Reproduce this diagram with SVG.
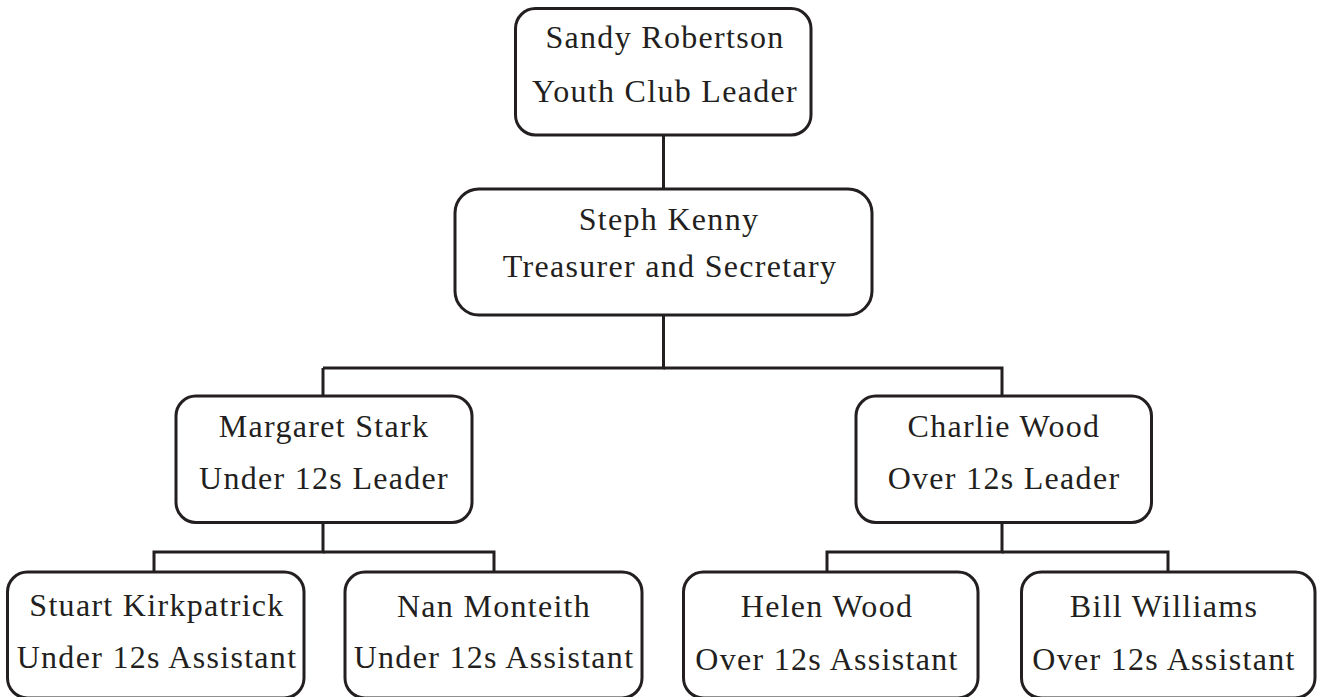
<svg xmlns="http://www.w3.org/2000/svg" width="1317" height="697" viewBox="0 0 1317 697" font-family="Liberation Serif, DejaVu Serif, serif">
<style>
.box{fill:#fff;stroke:#231f20;stroke-width:3}
.con{fill:none;stroke:#231f20;stroke-width:3}
.t{font-size:32px;letter-spacing:1.3px;fill:#231f20;text-anchor:middle}
</style>
<rect width="1317" height="697" fill="#fff"/>
<g id="connectors">
<line class="con" x1="663.5" y1="135" x2="663.5" y2="189"/>
<polyline class="con" points="663.5,315 663.5,368 323,368"/>
<polyline class="con" points="663.5,368 1002,368 1002,396"/>
<line class="con" x1="323" y1="368" x2="323" y2="396"/>
<polyline class="con" points="323,522 323,552 154,552 154,572"/>
<polyline class="con" points="323,552 494,552 494,572"/>
<polyline class="con" points="1002,522 1002,552 827,552 827,572"/>
<polyline class="con" points="1002,552 1168,552 1168,572"/>
</g>
<g id="sandy">
<rect class="box" x="515.5" y="8.5" width="295.5" height="126.5" rx="20"/>
<text class="t" font-family="Liberation Serif, serif" x="665" y="48">Sandy Robertson</text>
<text class="t" font-family="Liberation Serif, serif" x="665" y="102">Youth Club Leader</text>
</g>
<g id="steph">
<rect class="box" x="455" y="189" width="417" height="126" rx="24"/>
<text class="t" font-family="Liberation Serif, serif" x="669" y="230">Steph Kenny</text>
<text class="t" font-family="Liberation Serif, serif" x="670" y="277">Treasurer and Secretary</text>
</g>
<g id="margaret">
<rect class="box" x="176" y="396" width="296" height="126.5" rx="20"/>
<text class="t" font-family="Liberation Serif, serif" x="324" y="437">Margaret Stark</text>
<text class="t" font-family="Liberation Serif, serif" x="324" y="489">Under 12s Leader</text>
</g>
<g id="charlie">
<rect class="box" x="856" y="396" width="295.5" height="126.5" rx="20"/>
<text class="t" font-family="Liberation Serif, serif" x="1004" y="437">Charlie Wood</text>
<text class="t" font-family="Liberation Serif, serif" x="1004" y="489">Over 12s Leader</text>
</g>
<g id="stuart">
<rect class="box" x="7.5" y="572" width="296.5" height="126" rx="20"/>
<text class="t" font-family="Liberation Serif, serif" x="157" y="616">Stuart Kirkpatrick</text>
<text class="t" font-family="Liberation Serif, serif" x="157" y="668">Under 12s Assistant</text>
</g>
<g id="nan">
<rect class="box" x="345" y="572" width="297" height="126" rx="20"/>
<text class="t" font-family="Liberation Serif, serif" x="494" y="617">Nan Monteith</text>
<text class="t" font-family="Liberation Serif, serif" x="494" y="668">Under 12s Assistant</text>
</g>
<g id="helen">
<rect class="box" x="683.5" y="572" width="294.5" height="126" rx="20"/>
<text class="t" font-family="Liberation Serif, serif" x="827" y="617">Helen Wood</text>
<text class="t" font-family="Liberation Serif, serif" x="827" y="670">Over 12s Assistant</text>
</g>
<g id="bill">
<rect class="box" x="1021.5" y="572" width="293.5" height="126" rx="20"/>
<text class="t" font-family="Liberation Serif, serif" x="1164" y="617">Bill Williams</text>
<text class="t" font-family="Liberation Serif, serif" x="1164" y="670">Over 12s Assistant</text>
</g>
</svg>
